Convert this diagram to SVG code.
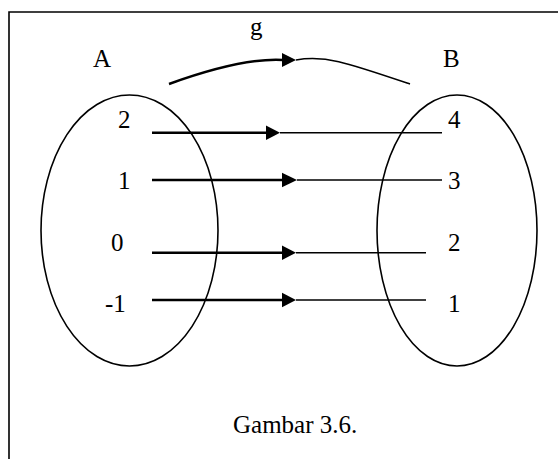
<svg xmlns="http://www.w3.org/2000/svg" width="558" height="459" viewBox="0 0 558 459">
<defs>
<style>
.t{font-family:"Liberation Serif","Times New Roman",serif;font-size:25px;fill:#000}
.e{fill:none;stroke:#000;stroke-width:1.6}
.thick{fill:none;stroke:#000;stroke-width:2.4}
.thin{fill:none;stroke:#000;stroke-width:1.5}
.head{fill:#000}
</style>
</defs>
<rect width="558" height="459" fill="#fff"/>
<g id="frame">
<path d="M9,459 V12 H558" fill="none" stroke="#000" stroke-width="1.6"/>
</g>
<g id="setA">
<ellipse class="e" cx="129.5" cy="230.5" rx="88.5" ry="135.5"/>
<text class="t" x="93" y="67">A</text>
<text class="t" x="118" y="128">2</text>
<text class="t" x="118" y="189">1</text>
<text class="t" x="111" y="251">0</text>
<text class="t" x="105" y="312">-1</text>
</g>
<g id="setB">
<ellipse class="e" cx="457" cy="230.5" rx="80" ry="135.5"/>
<text class="t" x="443" y="67">B</text>
<text class="t" x="448" y="128">4</text>
<text class="t" x="448" y="189">3</text>
<text class="t" x="448" y="251">2</text>
<text class="t" x="448" y="312">1</text>
</g>
<g id="connectors">
<path class="thick" d="M169,84 C205,71 250,58 283,60"/>
<polygon class="head" points="282,53 296,60 282,67"/>
<path class="thin" d="M296,60 C325,55 345,62 410,84"/>
<line class="thick" x1="152" y1="132.7" x2="267" y2="132.7"/>
<polygon class="head" points="266,125.5 280,132.7 266,140"/>
<line class="thin" x1="280" y1="132.7" x2="442" y2="132.7"/>
<line class="thick" x1="152" y1="180" x2="283" y2="180"/>
<polygon class="head" points="282,172.8 297,180 282,187.2"/>
<line class="thin" x1="297" y1="180" x2="442" y2="180"/>
<line class="thick" x1="152" y1="252.7" x2="283" y2="252.7"/>
<polygon class="head" points="282,245.5 296,252.7 282,260"/>
<line class="thin" x1="296" y1="252.7" x2="426" y2="252.7"/>
<line class="thick" x1="152" y1="300" x2="283" y2="300"/>
<polygon class="head" points="282,292.8 296,300 282,307.2"/>
<line class="thin" x1="296" y1="300" x2="426" y2="300"/>
</g>
<g id="labels">
<text class="t" x="250" y="35">g</text>
<text class="t" x="233" y="433">Gambar 3.6.</text>
</g>
</svg>
